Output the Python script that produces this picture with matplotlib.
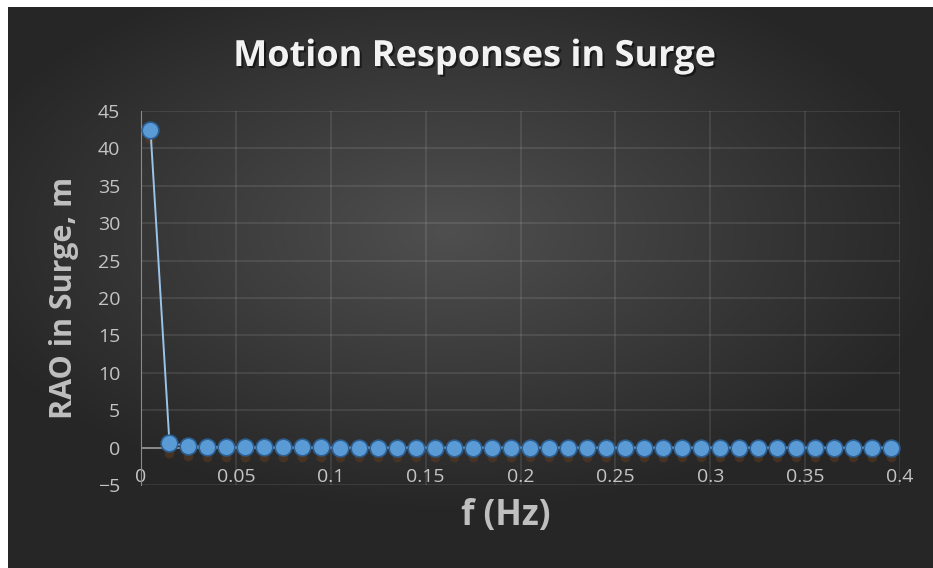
import numpy as np
import matplotlib.pyplot as plt
import matplotlib.patheffects as pe

plt.rcParams['font.family'] = ['Open Sans', 'DejaVu Sans']

# frequency (Hz) and surge RAO (m)
freq = [0.005, 0.015, 0.025, 0.035, 0.045, 0.055, 0.065, 0.075, 0.085, 0.095,
        0.105, 0.115, 0.125, 0.135, 0.145, 0.155, 0.165, 0.175, 0.185, 0.195,
        0.205, 0.215, 0.225, 0.235, 0.245, 0.255, 0.265, 0.275, 0.285, 0.295,
        0.305, 0.315, 0.325, 0.335, 0.345, 0.355, 0.365, 0.375, 0.385, 0.395]
rao = [42.5, 0.6, 0.2, 0.1, 0.05, 0.04, 0.03, 0.02, 0.02, 0.02,
       0.01, 0.01, 0.01, 0.01, 0.01, 0.01, 0.01, 0.01, 0.01, 0.01,
       0.01, 0.01, 0.01, 0.01, 0.01, 0.01, 0.01, 0.01, 0.01, 0.01,
       0.01, 0.01, 0.01, 0.01, 0.01, 0.01, 0.01, 0.01, 0.01, 0.01]
xtick_labels = ['0', '0.05', '0.1', '0.15', '0.2', '0.25', '0.3', '0.35', '0.4']

W, H = 933, 568
fig = plt.figure(figsize=(W / 100, H / 100), dpi=100)
fig.patch.set_facecolor('white')

# dark radial gradient chart area
bg = fig.add_axes([8 / W, 0, 1 - 8 / W, 1 - 7 / H])
yy, xx = np.mgrid[-1:1:300j, -1:1:500j]
r = np.sqrt(((xx + 0.05) / 1.1) ** 2 + ((yy + 0.2) / 1.0) ** 2)
shade = np.clip(0.31 - 0.16 * r, 0.15, 0.31)
bg.imshow(np.dstack([shade] * 3), aspect='auto', extent=[0, 1, 0, 1])
bg.axis('off')

ax = fig.add_axes([141 / W, 1 - 485 / H, (900 - 141) / W, (485 - 111) / H])
ax.patch.set_alpha(0)
ax.set_xlim(0, 0.4)
ax.set_ylim(-5, 45)
ax.set_xticks(np.arange(0, 0.401, 0.05))
ax.set_yticks(np.arange(-5, 46, 5))
ax.set_xticklabels(xtick_labels)
ax.grid(True, color='white', lw=1.2, alpha=0.11)
ax.set_axisbelow(True)
for s in ['top', 'right', 'bottom']:
    ax.spines[s].set_visible(False)
ax.spines['left'].set_color('#8a8a8a')
ax.spines['left'].set_position(('data', 0))
ax.axhline(0, color='#9a9a9a', lw=1.2, zorder=1)
ax.tick_params(length=0, colors='#c4c4c4', labelsize=14)
ax.tick_params(axis='y', pad=15)
ax.tick_params(axis='x', pad=-12)

# marker shadows
ax.plot(freq, [v - 1.3 for v in rao], 'o', ms=7, color='#5a3a20', alpha=0.6,
        mec='none', zorder=2)
ax.plot(freq, rao, '-', color='#9cc3ea', lw=1.4, zorder=3)
ax.plot(freq, rao, 'o', ms=12, mfc='#5b9bd5', mec='#2c5f92', mew=1.2, zorder=4)

shadow = [pe.withSimplePatchShadow(offset=(1.5, -1.5), shadow_rgbFace='black', alpha=0.5)]
fig.text(475 / W, 1 - 57 / H, 'Motion Responses in Surge', ha='center', va='center',
         fontsize=26, fontweight='bold', color='#f2f2f2', path_effects=shadow)
fig.text(64 / W, 1 - 298 / H, 'RAO in Surge, m', ha='center', va='center',
         rotation=90, fontsize=22, fontweight='bold', color='#bfbfbf')
fig.text(506 / W, 1 - 516 / H, 'f (Hz)', ha='center', va='center',
         fontsize=25, fontweight='bold', color='#bfbfbf')

fig.savefig('out.png', dpi=100, facecolor=fig.get_facecolor())
